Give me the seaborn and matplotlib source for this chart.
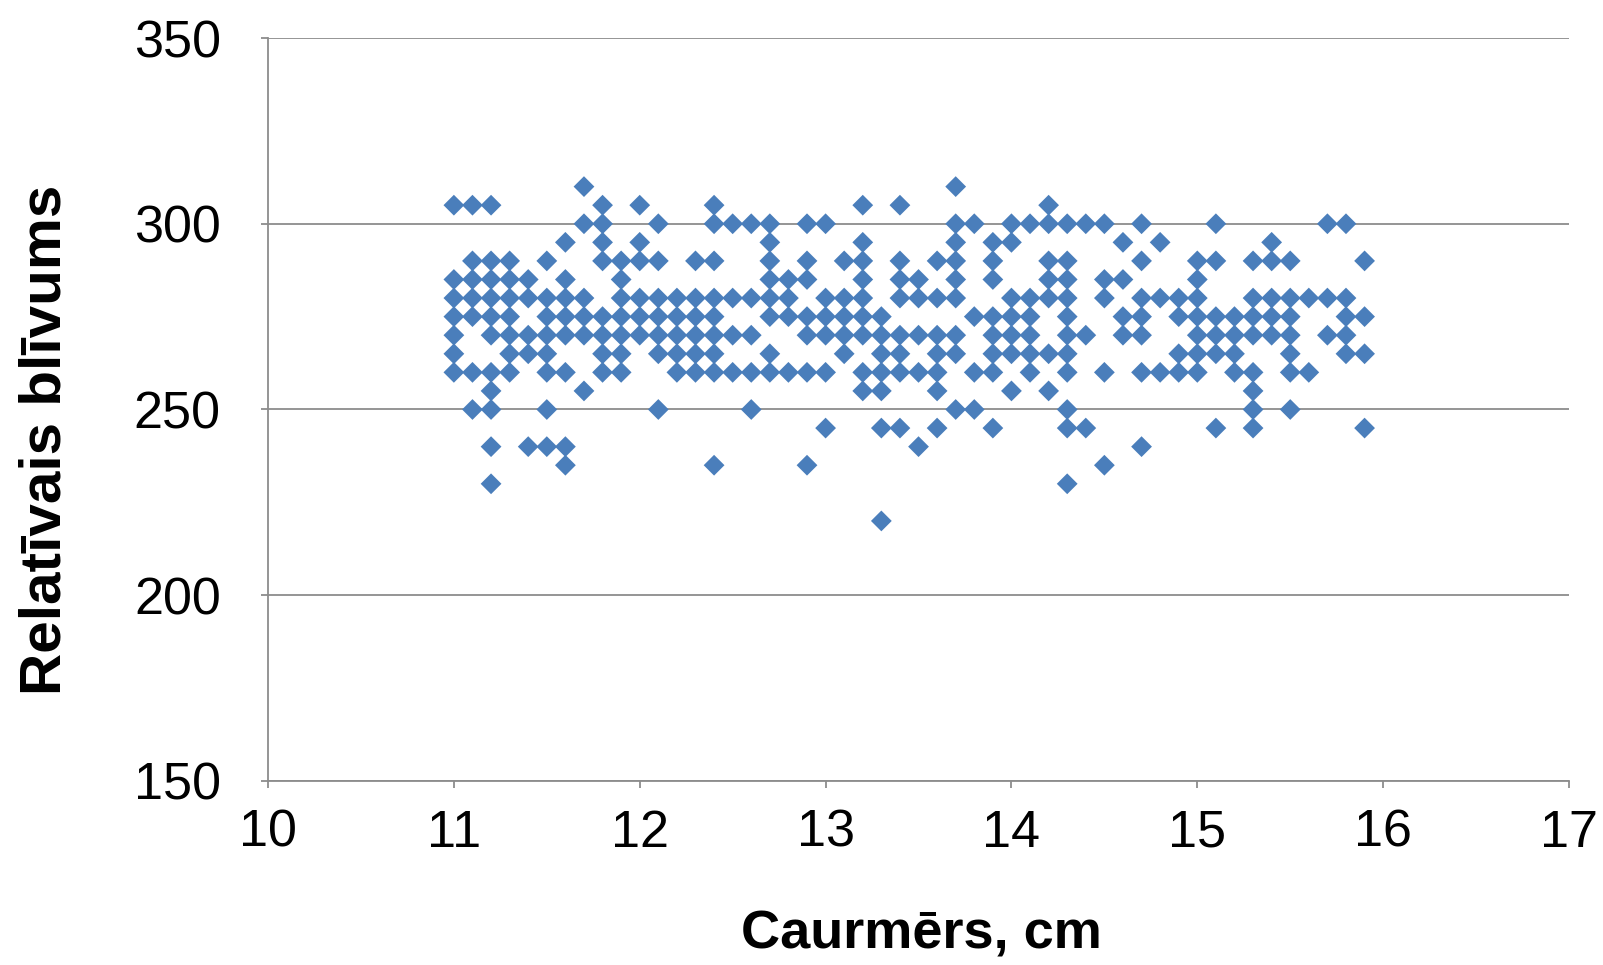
import matplotlib
matplotlib.use("Agg")
import matplotlib.pyplot as plt
import seaborn as sns
import pandas as pd

# Diameter columns (cm) and the relative-density values observed at each
diameter_cm = [11.0, 11.1, 11.2, 11.3, 11.4, 11.5, 11.6, 11.7, 11.8, 11.9,
               12.0, 12.1, 12.2, 12.3, 12.4, 12.5, 12.6, 12.7, 12.8, 12.9,
               13.0, 13.1, 13.2, 13.3, 13.4, 13.5, 13.6, 13.7, 13.8, 13.9,
               14.0, 14.1, 14.2, 14.3, 14.4, 14.5, 14.6, 14.7, 14.8, 14.9,
               15.0, 15.1, 15.2, 15.3, 15.4, 15.5, 15.6, 15.7, 15.8, 15.9]

relative_density = [
    [305, 285, 280, 275, 270, 265, 260],                      # 11.0
    [305, 290, 285, 280, 275, 260, 250],                      # 11.1
    [305, 290, 285, 280, 275, 270, 260, 255, 250, 240, 230],  # 11.2
    [290, 285, 280, 275, 270, 265, 260],                      # 11.3
    [285, 280, 270, 265, 240],                                # 11.4
    [290, 280, 275, 270, 265, 260, 250, 240],                 # 11.5
    [295, 285, 280, 275, 270, 260, 240, 235],                 # 11.6
    [310, 300, 280, 275, 270, 255],                           # 11.7
    [305, 300, 295, 290, 275, 270, 265, 260],                 # 11.8
    [290, 285, 280, 275, 270, 265, 260],                      # 11.9
    [305, 295, 290, 280, 275, 270],                           # 12.0
    [300, 290, 280, 275, 270, 265, 250],                      # 12.1
    [280, 275, 270, 265, 260],                                # 12.2
    [290, 280, 275, 270, 265, 260],                           # 12.3
    [305, 300, 290, 280, 275, 270, 265, 260, 235],            # 12.4
    [300, 280, 270, 260],                                     # 12.5
    [300, 280, 270, 260, 250],                                # 12.6
    [300, 295, 290, 285, 280, 275, 265, 260],                 # 12.7
    [285, 280, 275, 260],                                     # 12.8
    [300, 290, 285, 275, 270, 260, 235],                      # 12.9
    [300, 280, 275, 270, 260, 245],                           # 13.0
    [290, 280, 275, 270, 265],                                # 13.1
    [305, 295, 290, 285, 280, 275, 270, 260, 255],            # 13.2
    [275, 270, 265, 260, 255, 245, 220],                      # 13.3
    [305, 290, 285, 280, 270, 265, 260, 245],                 # 13.4
    [285, 280, 270, 260, 240],                                # 13.5
    [290, 280, 270, 265, 260, 255, 245],                      # 13.6
    [310, 300, 295, 290, 285, 280, 270, 265, 250],            # 13.7
    [300, 275, 260, 250],                                     # 13.8
    [295, 290, 285, 275, 270, 265, 260, 245],                 # 13.9
    [300, 295, 280, 275, 270, 265, 255],                      # 14.0
    [300, 280, 275, 270, 265, 260],                           # 14.1
    [305, 300, 290, 285, 280, 265, 255],                      # 14.2
    [300, 290, 285, 280, 275, 270, 265, 260, 250, 245, 230],  # 14.3
    [300, 270, 245],                                          # 14.4
    [300, 285, 280, 260, 235],                                # 14.5
    [295, 285, 275, 270],                                     # 14.6
    [300, 290, 280, 275, 270, 260, 240],                      # 14.7
    [295, 280, 260],                                          # 14.8
    [280, 275, 265, 260],                                     # 14.9
    [290, 285, 280, 275, 270, 265, 260],                      # 15.0
    [300, 290, 275, 270, 265, 245],                           # 15.1
    [275, 270, 265, 260],                                     # 15.2
    [290, 280, 275, 270, 260, 255, 250, 245],                 # 15.3
    [295, 290, 280, 275, 270],                                # 15.4
    [290, 280, 275, 270, 265, 260, 250],                      # 15.5
    [280, 260],                                               # 15.6
    [300, 280, 270],                                          # 15.7
    [300, 280, 275, 270, 265],                                # 15.8
    [290, 275, 265, 245],                                     # 15.9
]

x_ticks = [10, 11, 12, 13, 14, 15, 16, 17]
y_ticks = [150, 200, 250, 300, 350]
x_label = "Caurmērs, cm"
y_label = "Relatīvais blīvums"

rows = [(d, v) for d, vals in zip(diameter_cm, relative_density) for v in vals]
df = pd.DataFrame(rows, columns=["diameter", "density"])

sns.set_style("white")
plt.rcParams["font.family"] = ["Liberation Sans", "DejaVu Sans"]
plt.rcParams["text.color"] = "black"
plt.rcParams["xtick.color"] = "black"
plt.rcParams["ytick.color"] = "black"
plt.rcParams["axes.labelcolor"] = "black"

fig = plt.figure(figsize=(16.03, 9.65), dpi=100)
ax = fig.add_axes([0.1672, 0.1907, 0.8116, 0.7699])

sns.scatterplot(data=df, x="diameter", y="density", marker="D", s=112,
                color="#4A7EBB", edgecolor="none", linewidth=0, ax=ax,
                legend=False, zorder=3)

ax.set_xlim(10, 17)
ax.set_ylim(150, 350)
ax.set_xticks(x_ticks)
ax.set_yticks(y_ticks)

grid_col = "#8C8C8C"
ax.yaxis.grid(True, color=grid_col, linewidth=1.3)
ax.xaxis.grid(False)
ax.set_axisbelow(True)
for side in ["top", "right"]:
    ax.spines[side].set_visible(False)
for side in ["left", "bottom"]:
    ax.spines[side].set_color(grid_col)
    ax.spines[side].set_linewidth(1.3)

ax.tick_params(axis="y", labelsize=37.5, length=5, width=1.3, color=grid_col,
               labelcolor="black", pad=29, direction="out", left=True)
ax.tick_params(axis="x", labelsize=37.5, length=5, width=1.3, color=grid_col,
               labelcolor="black", pad=15, direction="out", bottom=True)

ax.set_xlabel(x_label, fontsize=39, fontweight="bold", color="black")
ax.set_ylabel(y_label, fontsize=42, fontweight="bold", color="black")
ax.xaxis.label.set_verticalalignment("center")
ax.yaxis.label.set_verticalalignment("center")
ax.xaxis.set_label_coords(0.502, -0.207)
ax.yaxis.set_label_coords(-0.171, 0.459)

fig.savefig("out.png", dpi=100)
